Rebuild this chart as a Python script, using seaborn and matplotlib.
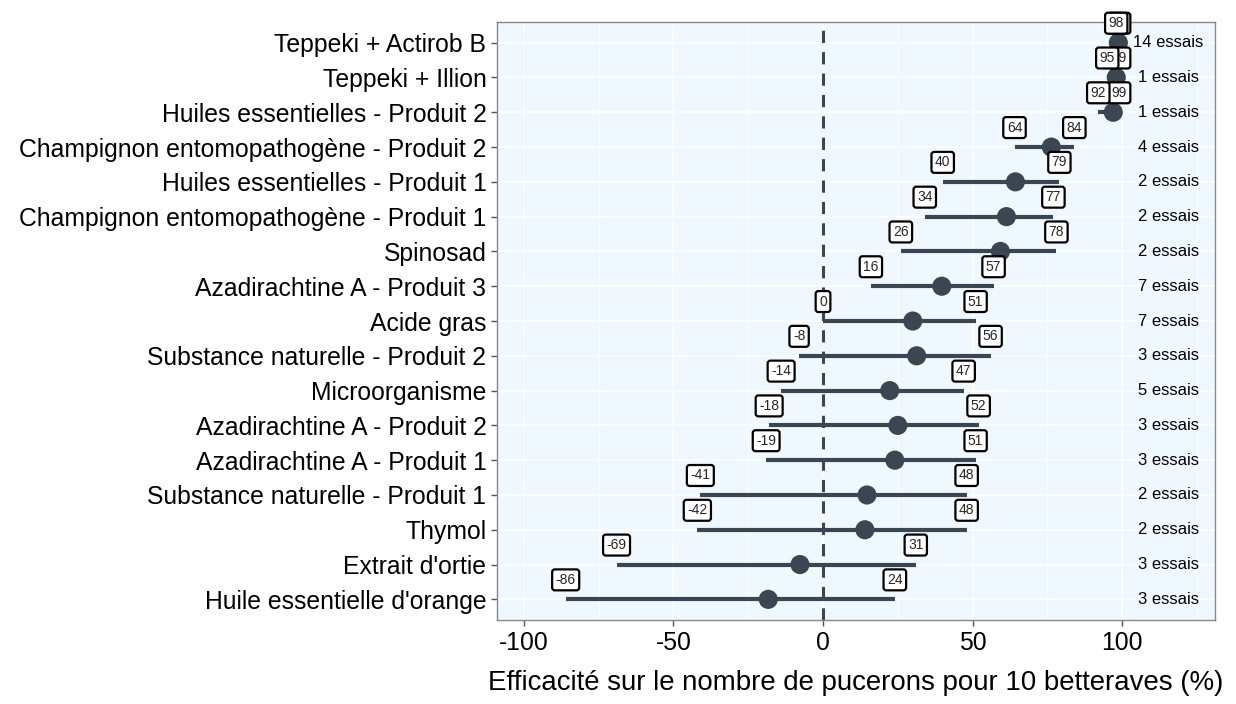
import numpy as np
import pandas as pd
import seaborn as sns
import matplotlib.pyplot as plt
from matplotlib.ticker import MultipleLocator

# data, top row first
produits = [
    "Teppeki + Actirob B",
    "Teppeki + Illion",
    "Huiles essentielles - Produit 2",
    "Champignon entomopathogène - Produit 2",
    "Huiles essentielles - Produit 1",
    "Champignon entomopathogène - Produit 1",
    "Spinosad",
    "Azadirachtine A - Produit 3",
    "Acide gras",
    "Substance naturelle - Produit 2",
    "Microorganisme",
    "Azadirachtine A - Produit 2",
    "Azadirachtine A - Produit 1",
    "Substance naturelle - Produit 1",
    "Thymol",
    "Extrait d'ortie",
    "Huile essentielle d'orange",
]
moyenne = [98.7, 98, 97, 76.3, 64.3, 61.3, 59.3, 39.7, 30, 31.3, 22.3, 25, 24, 14.7, 14, -7.7, -18.3]
mini = [98, 95, 92, 64, 40, 34, 26, 16, 0, -8, -14, -18, -19, -41, -42, -69, -86]
maxi = [99, 99, 99, 84, 79, 77, 78, 57, 51, 56, 47, 52, 51, 48, 48, 31, 24]
essais = [14, 1, 1, 4, 2, 2, 2, 7, 7, 3, 5, 3, 3, 2, 2, 3, 3]

df = pd.DataFrame({"produit": produits, "moy": moyenne, "min": mini,
                   "max": maxi, "n": essais})
df["y"] = np.arange(len(df))[::-1]

col = "#3b4653"
sns.set_theme(style="white")
plt.rcParams["font.family"] = ["Liberation Sans", "DejaVu Sans"]

fig = plt.figure(figsize=(12.36, 7.04), dpi=100)
ax = fig.add_axes([0.402, 0.119, 0.581, 0.850])
ax.set_facecolor("#f0f8ff")

# grid
ax.xaxis.set_major_locator(MultipleLocator(50))
ax.xaxis.set_minor_locator(MultipleLocator(25))
ax.grid(which="major", axis="both", color="white", lw=1.2)
ax.grid(which="minor", axis="x", color="white", lw=0.6)
ax.set_axisbelow(True)

ax.axvline(0, color=col, lw=2.2, ls=(0, (4, 3)), zorder=1)
ax.hlines(df["y"], df["min"], df["max"], color=col, lw=3, zorder=2)
sns.scatterplot(data=df, x="moy", y="y", color=col, s=190, edgecolor="none",
                ax=ax, zorder=3, legend=False)

box = dict(boxstyle="round,pad=0.25,rounding_size=0.2", fc="white", ec="black", lw=1.6)
for _, r in df.iterrows():
    # max label first, min label drawn over it
    for v in (r["max"], r["min"]):
        ax.text(v, r["y"] + 0.56, f"{v:.0f}", ha="center", va="center",
                fontsize=10, bbox=box, zorder=4)
    ax.text(115.5, r["y"], f"{r['n']} essais", ha="center", va="center",
            fontsize=12, color="black", zorder=4)

ax.set_xlim(-109, 131)
ax.set_ylim(-0.6, len(df) - 0.4)
ax.set_yticks(df["y"])
ax.set_yticklabels(df["produit"])
ax.set_xticks([-100, -50, 0, 50, 100])
ax.set_xticklabels(["-100", "-50", "0", "50", "100"])
ax.tick_params(axis="both", which="major", labelsize=17.8, length=4,
               color="#555555", width=1, labelcolor="black", left=True, bottom=True)
ax.tick_params(axis="x", which="minor", length=0)
ax.set_xlabel("Efficacité sur le nombre de pucerons pour 10 betteraves (%)",
              fontsize=19.9, labelpad=11, color="black")
ax.set_ylabel("")
for s in ax.spines.values():
    s.set_color("#888888")
    s.set_linewidth(1)

fig.savefig("out.png", dpi=100)
